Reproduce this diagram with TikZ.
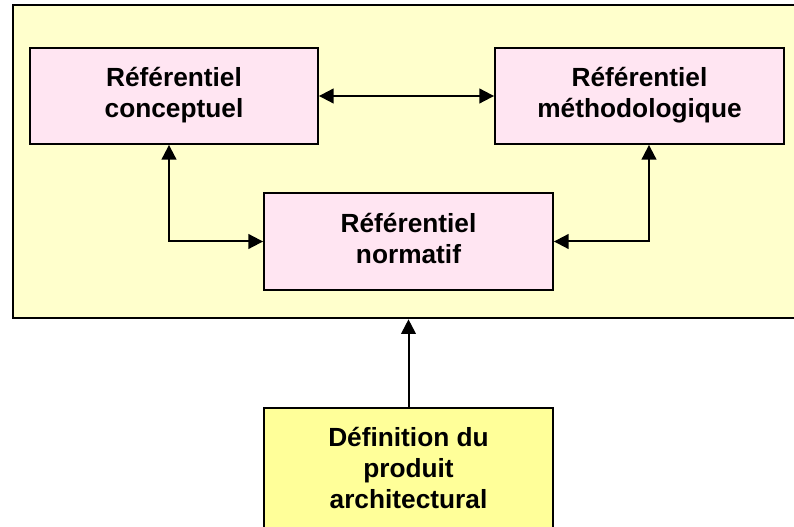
\documentclass[tikz,border=0pt]{standalone}
\usepackage{fontspec}
\setmainfont{Liberation Sans}
\usetikzlibrary{arrows.meta}

\definecolor{panelfill}{RGB}{255,255,204}
\definecolor{refpink}{RGB}{255,229,242}
\definecolor{inputfill}{RGB}{255,255,153}

% two or three centred lines, lifted a little inside their box
\newcommand{\boxlines}[1]{\raisebox{3pt}{\begin{tabular}{@{}c@{}}#1\end{tabular}}}

\begin{document}
\begin{tikzpicture}[
  x=0.75pt, y=-0.75pt,
  panel/.style={draw=black, line width=2pt, fill=panelfill, rectangle, inner sep=0pt},
  refbox/.style={draw=black, line width=1.4pt, fill=refpink, rectangle, inner sep=0pt,
    minimum width=216.75pt, minimum height=72pt,
    font=\fontsize{19.7}{23.2}\selectfont\bfseries},
  inbox/.style={refbox, fill=inputfill},
  link/.style={line width=1.5pt, draw=black, -{Triangle[length=11pt,width=11pt]}},
  both/.style={link, {Triangle[length=11pt,width=11pt]}-{Triangle[length=11pt,width=11pt]}}
]
\useasboundingbox (0,0) rectangle (794,527);

% outer panel holding the three reference frames
\node[panel, minimum width=597.75pt, minimum height=234.75pt] (frame) at (411.5,161.5) {};

\node[refbox, minimum width=216pt] (conc) at (174,96)
  {\boxlines{Référentiel\\conceptuel}};
\node[refbox] (meth) at (639.5,96)
  {\boxlines{Référentiel\\méthodologique}};
\node[refbox, minimum height=72.75pt] (norm) at (408.5,241.5)
  {\boxlines{Référentiel\\normatif}};
\node[inbox, minimum height=95.25pt] (def) at (408.5,471.5)
  {\boxlines{Définition du\\produit\\architectural}};

% bend columns of the side connectors
\coordinate (lc) at (169,0);
\coordinate (rc) at (649,0);

\draw[both] (conc.east) -- (meth.west);
\draw[both] (conc.south -| lc) |- (norm.west);
\draw[both] (meth.south -| rc) |- (norm.east);
\draw[link] (def.north) -- (def.north |- frame.south);
\end{tikzpicture}
\end{document}
